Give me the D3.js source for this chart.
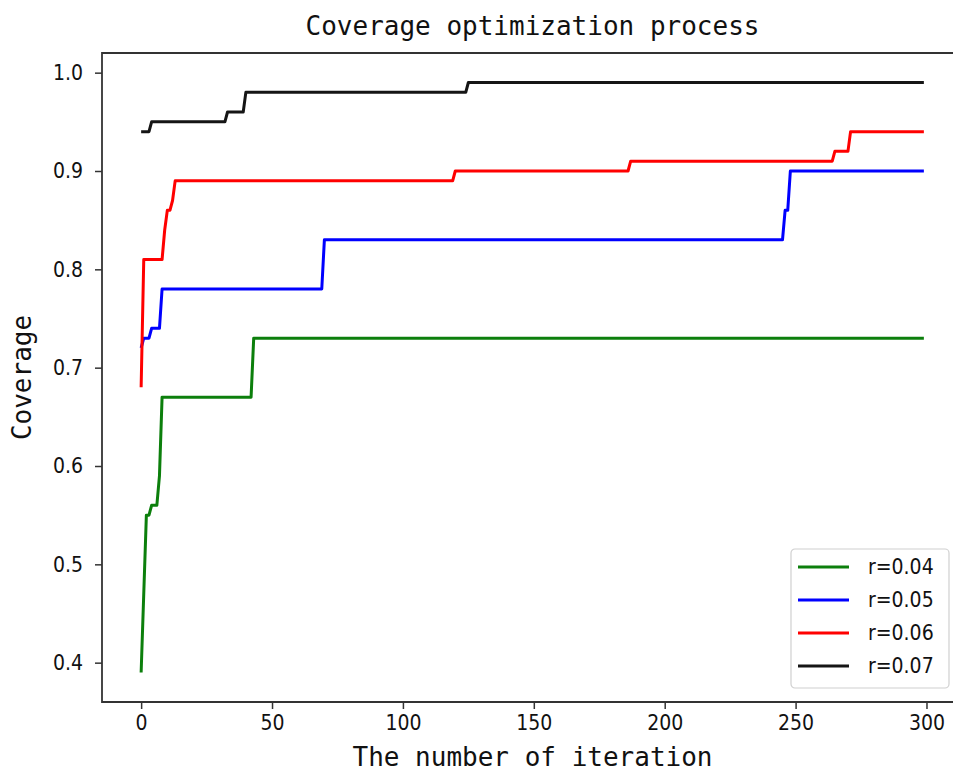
<!DOCTYPE html>
<html>
<head>
<meta charset="utf-8">
<script src="https://cdn.jsdelivr.net/npm/d3@7"></script>
<style>
  html, body { margin: 0; background: #fff; overflow: hidden; }
  svg { display: block; }
  .tick text { font-family: "Liberation Sans Narrow", "DejaVu Sans Condensed", sans-serif; font-size: 21px; fill: #111; }
  .mono { font-family: "DejaVu Sans Mono", monospace; fill: #111; }
</style>
</head>
<body>
<div id="container"></div>
<script>
/* CONSTANTS AND GLOBALS */
const width = 953,
  height = 774,
  margin = { top: 53, bottom: 72, left: 102, right: -10 };

/* DATA (breakpoints of each step curve) */
const seriesNames = ["r=0.04", "r=0.05", "r=0.06", "r=0.07"];
const seriesColors = ["#0c7f0c", "#0000ff", "#ff0000", "#151515"];

const iterR04 = [0, 2, 3, 4, 6, 7, 8, 42, 43, 299];
const covR04 = [0.39, 0.55, 0.55, 0.56, 0.56, 0.59, 0.67, 0.67, 0.73, 0.73];

const iterR05 = [0, 1, 3, 4, 7, 8, 69, 70, 245, 246, 247, 248, 299];
const covR05 = [0.72, 0.73, 0.73, 0.74, 0.74, 0.78, 0.78, 0.83, 0.83, 0.86, 0.86, 0.90, 0.90];

const iterR06 = [0, 1, 8, 9, 10, 11, 12, 13, 119, 120, 186, 187, 264, 265, 270, 271, 299];
const covR06 = [0.68, 0.81, 0.81, 0.84, 0.86, 0.86, 0.87, 0.89, 0.89, 0.90, 0.90, 0.91, 0.91, 0.92, 0.92, 0.94, 0.94];

const iterR07 = [0, 3, 4, 32, 33, 39, 40, 124, 125, 299];
const covR07 = [0.94, 0.94, 0.95, 0.95, 0.96, 0.96, 0.98, 0.98, 0.99, 0.99];

const xTicks = [0, 50, 100, 150, 200, 250, 300];
const yTicks = [0.4, 0.5, 0.6, 0.7, 0.8, 0.9, 1.0];

const series = [
  { name: seriesNames[0], color: seriesColors[0], iters: iterR04, vals: covR04 },
  { name: seriesNames[1], color: seriesColors[1], iters: iterR05, vals: covR05 },
  { name: seriesNames[2], color: seriesColors[2], iters: iterR06, vals: covR06 },
  { name: seriesNames[3], color: seriesColors[3], iters: iterR07, vals: covR07 }
];

// SCALES (matplotlib-style 5% padding)
const xMin = 0, xMax = 299, xPad = (xMax - xMin) * 0.05;
const xScale = d3.scaleLinear()
  .domain([xMin - xPad, xMax + xPad])
  .range([margin.left, width - margin.right]);

const yMin = 0.39, yMax = 0.99, yPad = (yMax - yMin) * 0.05;
const yScale = d3.scaleLinear()
  .domain([yMin - yPad, yMax + yPad])
  .range([height - margin.bottom, margin.top]);

// CREATE SVG CONTAINER
const svg = d3.select("#container")
  .append("svg")
  .attr("width", width)
  .attr("height", height);

// LINES
const lineGen = d3.line()
  .x(d => xScale(d[0]))
  .y(d => yScale(d[1]));

svg.append("g")
  .selectAll("path")
  .data(series)
  .join("path")
  .attr("d", s => lineGen(s.iters.map((it, i) => [it, s.vals[i]])))
  .attr("fill", "none")
  .attr("stroke", s => s.color)
  .attr("stroke-width", 3)
  .attr("stroke-linejoin", "round");

// FRAME (right spine falls outside the picture, so only three sides)
const plotTop = margin.top, plotBottom = height - margin.bottom;
svg.append("path")
  .attr("d", `M${width},${plotTop}H${margin.left}V${plotBottom}H${width}`)
  .attr("fill", "none")
  .attr("stroke", "#333")
  .attr("stroke-width", 1.8);

// AXES
const xAxis = d3.axisBottom(xScale)
  .tickValues(xTicks)
  .tickFormat(d3.format("d"))
  .tickSize(7)
  .tickSizeOuter(0)
  .tickPadding(6);

const xAxisGroup = svg.append("g")
  .attr("transform", `translate(0, ${plotBottom})`)
  .call(xAxis);

const yAxis = d3.axisLeft(yScale)
  .tickValues(yTicks)
  .tickFormat(d3.format(".1f"))
  .tickSize(7)
  .tickSizeOuter(0)
  .tickPadding(12);

const yAxisGroup = svg.append("g")
  .attr("transform", `translate(${margin.left}, 0)`)
  .call(yAxis);

[xAxisGroup, yAxisGroup].forEach(g => {
  g.select(".domain").remove();
  g.selectAll(".tick line").attr("stroke", "#333").attr("stroke-width", 1.5);
});

// LEGEND
const legend = svg.append("g").attr("transform", "translate(791, 549)");

legend.append("rect")
  .attr("width", 158)
  .attr("height", 139)
  .attr("rx", 4)
  .attr("fill", "#fff")
  .attr("fill-opacity", 0.8)
  .attr("stroke", "#d0d0d0")
  .attr("stroke-width", 1.2);

const items = legend.selectAll(".item")
  .data(series)
  .join("g")
  .attr("transform", (d, i) => `translate(0, ${18 + i * 33})`);

items.append("line")
  .attr("x1", 7).attr("x2", 58)
  .attr("stroke", d => d.color)
  .attr("stroke-width", 3);

items.append("text")
  .attr("x", 77)
  .attr("dy", "0.35em")
  .attr("font-family", "Liberation Sans Narrow, DejaVu Sans Condensed, sans-serif")
  .attr("font-size", 21)
  .attr("fill", "#111")
  .text(d => d.name);

// TITLES
svg.append("text")
  .attr("class", "mono")
  .attr("x", (margin.left + width - margin.right) / 2)
  .attr("y", 35)
  .attr("text-anchor", "middle")
  .attr("font-size", 26)
  .text("Coverage optimization process");

svg.append("text")
  .attr("class", "mono")
  .attr("x", (margin.left + width - margin.right) / 2)
  .attr("y", 766)
  .attr("text-anchor", "middle")
  .attr("font-size", 26)
  .text("The number of iteration");

svg.append("text")
  .attr("class", "mono")
  .attr("transform", `translate(31, ${(plotTop + plotBottom) / 2}) rotate(-90)`)
  .attr("text-anchor", "middle")
  .attr("font-size", 26)
  .text("Coverage");
</script>
</body>
</html>
